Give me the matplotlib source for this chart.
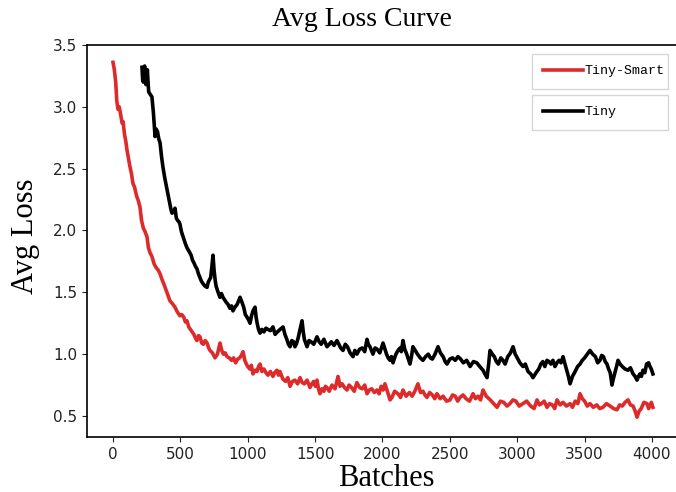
import matplotlib

matplotlib.use("Agg")
import matplotlib.pyplot as plt


# values
smart_batches = [
    0, 10, 20, 28, 37, 46, 55, 62, 67, 75, 85, 95, 104, 115, 125, 137, 148,
    160, 175, 188, 200, 212, 225, 238, 252, 263, 275, 289, 305, 320, 335, 349,
    365, 380, 400, 423, 440, 460, 478, 497, 510, 525, 537, 549, 562, 575, 588,
    600, 612, 623, 635, 646, 658, 670, 684, 698, 710, 720, 738, 757, 775, 794,
    807, 820, 833, 846, 863, 880, 895, 910, 925, 940, 953, 965, 978, 990,
    1000, 1015, 1027, 1039, 1055, 1069, 1080, 1091, 1105, 1120, 1135, 1150,
    1168, 1187, 1200, 1217, 1228, 1239, 1260, 1280, 1297, 1314, 1332, 1350,
    1370, 1388, 1404, 1420, 1440, 1462, 1476, 1490, 1502, 1514, 1525, 1536,
    1550, 1565, 1576, 1588, 1605, 1625, 1648, 1670, 1685, 1700, 1718, 1737,
    1752, 1770, 1790, 1810, 1830, 1850, 1868, 1885, 1902, 1920, 1940, 1959,
    1975, 1990, 2005, 2018, 2036, 2056, 2070, 2090, 2115, 2134, 2152, 2175,
    2200, 2220, 2240, 2263, 2282, 2300, 2315, 2330, 2350, 2370, 2388, 2404,
    2428, 2450, 2475, 2501, 2520, 2540, 2558, 2575, 2598, 2620, 2646, 2672,
    2690, 2710, 2728, 2746, 2770, 2800, 2825, 2850, 2875, 2900, 2925, 2946,
    2968, 2990, 3015, 3043, 3070, 3100, 3125, 3147, 3165, 3180, 3200, 3221,
    3240, 3260, 3278, 3295, 3318, 3340, 3365, 3392, 3410, 3430, 3450, 3466,
    3483, 3500, 3520, 3540, 3565, 3590, 3612, 3636, 3662, 3690, 3715, 3740,
    3760, 3780, 3800, 3822, 3840, 3860, 3875, 3889, 3905, 3920, 3940, 3963,
    3975, 3985, 3995, 4007,
]
smart_loss = [
    3.36, 3.30, 3.20, 3.05, 2.98, 3.00, 2.95, 2.90, 2.87, 2.88, 2.78, 2.72,
    2.65, 2.58, 2.52, 2.46, 2.38, 2.35, 2.28, 2.24, 2.19, 2.08, 2.02, 1.99,
    1.95, 1.86, 1.82, 1.79, 1.73, 1.70, 1.68, 1.65, 1.60, 1.56, 1.50, 1.43,
    1.41, 1.38, 1.34, 1.31, 1.32, 1.30, 1.26, 1.27, 1.22, 1.20, 1.18, 1.16,
    1.13, 1.11, 1.15, 1.14, 1.09, 1.08, 1.11, 1.09, 1.05, 1.03, 1.01, 0.97,
    1.00, 1.09, 1.03, 1.00, 1.01, 0.98, 0.97, 0.95, 0.97, 0.93, 0.96, 0.97,
    0.99, 1.02, 0.95, 0.92,
    0.90, 0.88, 0.91, 0.84, 0.87, 0.86, 0.90, 0.92, 0.86, 0.88, 0.85, 0.83,
    0.86, 0.82, 0.85, 0.87, 0.83, 0.86, 0.80, 0.78, 0.81, 0.74, 0.78, 0.79,
    0.76, 0.81, 0.77, 0.76, 0.79, 0.73, 0.76, 0.78, 0.74, 0.79, 0.72, 0.68,
    0.72, 0.70, 0.74, 0.73, 0.70, 0.75, 0.72, 0.82, 0.74, 0.76, 0.73, 0.71,
    0.75, 0.73, 0.70, 0.77, 0.73, 0.72, 0.75, 0.68, 0.71, 0.72, 0.69, 0.71,
    0.68, 0.74, 0.71, 0.76, 0.70, 0.63, 0.65, 0.70, 0.68, 0.65, 0.71, 0.66,
    0.69, 0.66, 0.70, 0.76, 0.69, 0.70, 0.67, 0.65, 0.69, 0.67, 0.64, 0.68,
    0.64, 0.66, 0.62, 0.63, 0.67, 0.66, 0.62, 0.65, 0.67, 0.64, 0.62, 0.68,
    0.64, 0.66, 0.63, 0.71, 0.66, 0.63, 0.60, 0.57, 0.62, 0.61, 0.58, 0.60,
    0.63, 0.62, 0.58, 0.60, 0.62, 0.58, 0.56, 0.63, 0.59, 0.60, 0.62, 0.57,
    0.60, 0.59, 0.56, 0.63, 0.59, 0.61, 0.58, 0.60, 0.57, 0.62, 0.60, 0.68,
    0.64, 0.62, 0.58, 0.60, 0.57, 0.59, 0.56, 0.57, 0.60, 0.58, 0.56, 0.55,
    0.59, 0.58, 0.61, 0.63, 0.59, 0.58, 0.54, 0.49, 0.54, 0.56, 0.61, 0.60,
    0.56, 0.58, 0.61, 0.57,
]

tiny_batches = [
    215, 220, 225, 230, 235, 240, 245, 250, 255, 260, 265, 277, 289, 300, 312,
    320, 330, 340, 349, 360, 371, 385, 401, 410, 420, 430, 438, 450, 460, 470,
    480, 490, 497, 508, 520, 535, 549, 565, 580, 590, 600, 612, 623, 634, 645,
    656, 668, 683, 698, 706, 715, 725, 733, 742, 750, 758, 765, 780, 794, 805,
    816, 828, 840, 855, 868, 880, 890, 905, 920, 932, 943, 957, 970, 982, 994,
    1005, 1017, 1028, 1039, 1054, 1062, 1070, 1080, 1091, 1105, 1120, 1135,
    1150, 1168, 1187, 1203, 1220, 1240, 1262, 1276, 1290, 1302, 1314, 1327,
    1340, 1350, 1360, 1374, 1388, 1403, 1412, 1420, 1430, 1440, 1455, 1470,
    1490, 1514, 1530, 1545, 1565, 1588, 1605, 1620, 1640, 1662, 1676, 1690,
    1707, 1724, 1740, 1760, 1781, 1795, 1810, 1830, 1850, 1868, 1885, 1895,
    1907, 1918, 1929, 1945, 1960, 1980, 2004, 2018, 2030, 2042, 2056, 2067,
    2078, 2090, 2100, 2115, 2130, 2140, 2152, 2165, 2180, 2192, 2204, 2215,
    2226, 2243, 2260, 2280, 2300, 2320, 2340, 2355, 2370, 2390, 2412, 2430,
    2450, 2465, 2479, 2500, 2520, 2540, 2560, 2580, 2600, 2625, 2650, 2675,
    2700, 2722, 2746, 2760, 2776, 2788, 2798, 2815, 2830, 2845, 2860, 2878,
    2894, 2910, 2930, 2950, 2969, 2985, 3000, 3020, 3043, 3060, 3080, 3100,
    3117, 3140, 3160, 3175, 3190, 3205, 3221, 3235, 3250, 3265, 3280, 3295,
    3310, 3325, 3340, 3352, 3365, 3380, 3392, 3410, 3430, 3448, 3466, 3483,
    3500, 3520, 3540, 3560, 3580, 3597, 3614, 3627, 3640, 3653, 3666, 3678,
    3690, 3697, 3703, 3713, 3725, 3737, 3748, 3763, 3780, 3800, 3822, 3840,
    3860, 3875, 3889, 3900, 3910, 3922, 3933, 3947, 3960, 3975, 3985, 3995,
    4007,
]
tiny_loss = [
    3.32, 3.22, 3.20, 3.30, 3.33, 3.22, 3.18, 3.26, 3.30, 3.20, 3.12, 3.10,
    3.08, 2.95, 2.76, 2.82, 2.80, 2.74, 2.71, 2.60, 2.51, 2.42, 2.33, 2.28,
    2.22, 2.17, 2.14, 2.15, 2.18, 2.10, 2.08, 2.07, 2.05, 1.99, 1.95, 1.90,
    1.86, 1.83, 1.80, 1.76, 1.74, 1.71, 1.69, 1.65, 1.62, 1.59, 1.57, 1.55,
    1.54, 1.58, 1.60, 1.62, 1.70, 1.80, 1.68, 1.60, 1.55, 1.50, 1.46, 1.49,
    1.46, 1.44, 1.42, 1.40, 1.37, 1.39, 1.35, 1.38, 1.40, 1.43, 1.46, 1.42,
    1.38, 1.32, 1.30, 1.28, 1.25, 1.31, 1.35, 1.38, 1.30, 1.25, 1.20, 1.17,
    1.20, 1.18, 1.21, 1.20, 1.19, 1.22, 1.16, 1.18, 1.20, 1.22, 1.16, 1.12,
    1.08, 1.06, 1.11, 1.10, 1.06, 1.08, 1.13, 1.20, 1.27, 1.18, 1.12, 1.09,
    1.06, 1.11, 1.10, 1.08, 1.14, 1.10, 1.08, 1.12, 1.06, 1.08, 1.10, 1.07,
    1.11, 1.08, 1.05, 1.03, 1.08, 1.06, 1.01, 0.98, 1.03, 1.00, 1.04, 1.05,
    1.02, 1.12, 1.08, 1.06, 1.03, 1.00, 1.05, 1.04, 1.01, 1.09, 1.04, 1.00,
    0.97, 0.95, 0.98, 0.93, 0.97, 1.00, 1.03, 1.05, 1.02, 1.11, 1.04, 1.00,
    0.96, 0.92, 0.98, 1.06, 1.03, 1.00, 0.97, 0.95, 0.98, 1.00, 0.97, 0.96,
    1.00, 1.06, 1.01, 0.98, 0.94, 0.92, 0.96, 0.97, 0.95, 0.98, 0.96, 0.93,
    0.95, 0.90, 0.94, 0.93, 0.90, 0.87, 0.84, 0.81, 0.92, 1.03, 1.00, 0.98,
    0.94, 0.92, 0.97, 0.95, 0.92, 0.98, 1.01, 1.06, 1.00, 0.97, 0.93, 0.90,
    0.92, 0.86, 0.84, 0.81, 0.85, 0.88, 0.92, 0.94, 0.90, 0.95, 0.94, 0.92,
    0.95, 0.90, 0.93, 0.95, 0.93, 0.98, 0.93, 0.88, 0.82, 0.76, 0.82, 0.86,
    0.90, 0.92, 0.95, 0.97, 1.00, 1.03, 1.00, 0.98, 0.93, 0.95, 0.99, 0.98,
    0.94, 0.92, 0.88, 0.85, 0.80, 0.75, 0.80, 0.85, 0.90, 0.95, 0.92, 0.90,
    0.88, 0.87, 0.89, 0.84, 0.82, 0.79, 0.82, 0.84, 0.82, 0.87, 0.85, 0.92,
    0.93, 0.90, 0.88, 0.84,
]

x_ticks = [0, 500, 1000, 1500, 2000, 2500, 3000, 3500, 4000]
y_ticks = [0.5, 1.0, 1.5, 2.0, 2.5, 3.0, 3.5]

W, H = 676, 492
fig = plt.figure(figsize=(W / 100, H / 100), dpi=100)
# right spine lies just past the cropped right edge, as in the reference
ax = fig.add_axes([87 / W, 1 - 437 / H, 600 / W, 392 / H])

line_smart, = ax.plot(smart_batches, smart_loss, color="#dd2a2a", lw=2.6)
line_tiny, = ax.plot(tiny_batches, tiny_loss, color="black", lw=2.6)

ax.set_xlim(-193, 4260)
ax.set_ylim(0.33, 3.5)
ax.set_xticks(x_ticks)
ax.set_yticks(y_ticks)
ax.tick_params(labelsize=11, colors="#222222")
for spine in ax.spines.values():
    spine.set_linewidth(1.2)

serif = "Liberation Serif"
fig.text(362 / W, 1 - 20 / H, "Avg Loss Curve", ha="center", va="center",
         family=serif, fontsize=20)
fig.text(386 / W, 1 - 479 / H, "Batches", ha="center", va="center",
         family=serif, fontsize=22)
fig.text(25 / W, 1 - 236 / H, "Avg Loss", ha="center", va="center",
         family=serif, fontsize=22, rotation=90)

legend_font = {"family": "Liberation Mono", "size": 9.5}
leg_kw = dict(loc="upper left", mode="expand", bbox_transform=fig.transFigure,
              prop=legend_font, handlelength=3.0, handletextpad=0.15,
              borderpad=0.85, borderaxespad=0, fancybox=False,
              edgecolor="#cccccc")
leg1 = ax.legend([line_smart], ["Tiny-Smart"],
                 bbox_to_anchor=(532 / W, 1 - 87 / H, 136 / W, 33 / H), **leg_kw)
ax.add_artist(leg1)
ax.legend([line_tiny], ["Tiny"],
          bbox_to_anchor=(532 / W, 1 - 128 / H, 136 / W, 33 / H), **leg_kw)

fig.savefig("out.png", dpi=100)
